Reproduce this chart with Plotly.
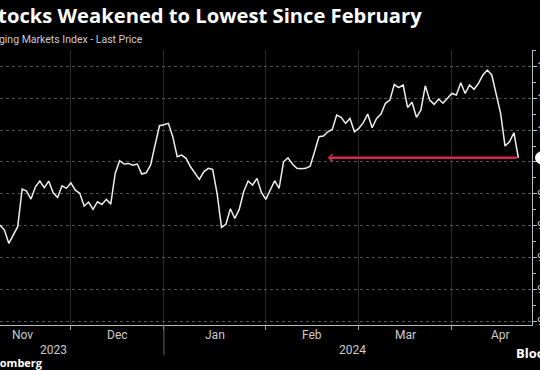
import pandas as pd
import plotly.graph_objects as go

# ---------------- data ----------------
dates = pd.bdate_range("2023-11-08", "2024-04-19")  # trading days (weekdays)
values = [
    960.3, 957.2, 948.8, 954.0, 959.3, 983.0, 981.7, 976.7, 984.4, 988.0,
    983.8, 988.0, 980.6, 977.7, 985.0, 983.4, 986.9, 982.3, 980.3, 972.3,
    974.8, 970.2, 975.0, 973.3, 976.5, 973.5, 992.8, 1000.8, 998.7, 999.1,
    997.9, 998.7, 992.4, 993.2, 998.1, 1010.6, 1022.8, 1023.4, 1024.3, 1015.9,
    1003.3, 1004.3, 1002.3, 997.0, 992.8, 989.1, 993.8, 996.0, 995.3, 980.3,
    958.9, 960.8, 970.6, 964.5, 970.2, 981.3, 988.0, 985.5, 989.7, 980.8,
    976.5, 982.3, 988.2, 983.4, 1000.1, 1002.6, 998.7, 996.0, 995.7, 996.0,
    997.4, 1006.4, 1015.9, 1016.3, 1019.0, 1020.5, 1029.5, 1028.1, 1024.3, 1027.4,
    1019.0, 1021.1, 1024.7, 1030.1, 1021.5, 1027.4, 1030.1, 1036.9, 1038.9, 1048.7,
    1046.8, 1048.4, 1034.3, 1037.5, 1028.1, 1032.6, 1047.9, 1038.9, 1036.2, 1039.6,
    1036.9, 1040.0, 1043.1, 1042.1, 1049.8, 1043.1, 1048.4, 1045.7, 1049.4, 1054.7,
    1057.8, 1054.7, 1043.1, 1030.6, 1010.0, 1012.7, 1018.4, 1002.6,
]
month_labels = ["Nov", "Dec", "Jan", "Feb", "Mar", "Apr"]
month_starts = ["2023-11-01", "2023-12-01", "2024-01-01", "2024-02-01",
                "2024-03-01", "2024-04-01", "2024-05-01"]
year_labels = ["2023", "2024"]
y_ticks = [900, 920, 940, 960, 980, 1000, 1020, 1040, 1060]
arrow_target = "2024-02-20"

title = "Stocks Weakened to Lowest Since February"
subtitle = "MSCI Emerging Markets Index - Last Price"
source = "Source: Bloomberg"

# ---------------- helpers ----------------
cal = pd.bdate_range("2023-09-01", "2024-06-30")
cal_list = list(cal)


def prev_bday(d):
    d = pd.Timestamp(d)
    return max(c for c in cal_list if c < d)


def pos(d):
    return cal_list.index(pd.Timestamp(d))


def at_pos(p):
    i = int(p)
    return cal_list[i] + pd.Timedelta(days=(p - i))


boundaries = [prev_bday(m) for m in month_starts]
grid_vals = boundaries[1:-1]
label_pos = [at_pos((pos(boundaries[k]) + pos(boundaries[k + 1])) / 2)
             for k in range(len(month_labels))]

W, H = 540, 370
ml, mr, mt, mb = 0, 8, 50, 45
pw, ph = W - ml - mr, H - mt - mb


def px(x):
    return (x - ml) / pw


def py(y):
    return (H - mb - y) / ph


last_val = values[-1]
last_date = dates[-1]

fig = go.Figure()
fig.add_trace(go.Scatter(
    x=dates, y=values, mode="lines",
    line=dict(color="#eeeeee", width=1.5),
    hoverinfo="skip", showlegend=False,
))

annotations = []
# title / subtitle (cropped at left like reference)
annotations.append(dict(text=f"<b>{title}</b>", xref="paper", yref="paper",
                        x=px(424), y=py(15), xanchor="right", yanchor="middle",
                        showarrow=False,
                        font=dict(family="Open Sans", size=20.2, color="#ffffff")))
annotations.append(dict(text=subtitle, xref="paper", yref="paper",
                        x=px(145), y=py(39.5), xanchor="right", yanchor="middle",
                        showarrow=False,
                        font=dict(family="Roboto", size=10.5, color="#cccccc")))
# month labels
for lab, lp in zip(month_labels, label_pos):
    annotations.append(dict(text=lab, x=lp, xref="x", yref="paper", y=py(334.5),
                            xanchor="center", yanchor="middle", showarrow=False,
                            font=dict(family="Roboto", size=12, color="#cccccc")))
# year labels
annotations.append(dict(text=year_labels[0], xref="paper", yref="paper", x=px(53.5),
                        y=py(350), xanchor="center", yanchor="middle", showarrow=False,
                        font=dict(family="Roboto", size=12, color="#cccccc")))
annotations.append(dict(text=year_labels[1], xref="paper", yref="paper", x=px(352),
                        y=py(350), xanchor="center", yanchor="middle", showarrow=False,
                        font=dict(family="Roboto", size=12, color="#cccccc")))
# source / logo
annotations.append(dict(text=f"<b>{source}</b>", xref="paper", yref="paper", x=px(45),
                        y=py(362), xanchor="right", yanchor="middle", showarrow=False,
                        font=dict(family="Open Sans", size=11, color="#ffffff")))
annotations.append(dict(text="<b>Bloomberg</b>", xref="paper", yref="paper", x=px(514),
                        y=py(353), xanchor="left", yanchor="middle", showarrow=False,
                        font=dict(family="Open Sans", size=13, color="#ffffff")))
# red arrow
annotations.append(dict(x=arrow_target, y=last_val, ax=last_date, ay=last_val,
                        xref="x", yref="y", axref="x", ayref="y", text="",
                        showarrow=True, arrowhead=4, arrowsize=0.55, arrowwidth=2.5,
                        arrowcolor="#d12a50", standoff=0, startstandoff=0))
# last price label text (mostly off-canvas)
annotations.append(dict(text=f"{last_val:,.2f}", xref="paper", yref="y", x=px(538),
                        y=last_val, xanchor="left", yanchor="middle", showarrow=False,
                        font=dict(family="Roboto", size=11, color="#000000")))

shapes = [
    # year separator below axis
    dict(type="line", xref="x", yref="paper", x0=boundaries[2], x1=boundaries[2],
         y0=0, y1=py(355), line=dict(color="#666666", width=1)),
    # last price bubble
    dict(type="circle", xref="paper", yref="y", xsizemode="pixel", ysizemode="pixel",
         xanchor=1, yanchor=last_val, x0=3, x1=27, y0=-8, y1=8,
         fillcolor="#ffffff", line=dict(width=0), layer="above"),
]

fig.update_layout(
    width=W, height=H,
    margin=dict(l=ml, r=mr, t=mt, b=mb, pad=0, autoexpand=False),
    paper_bgcolor="#000000", plot_bgcolor="#000000",
    showlegend=False,
    annotations=annotations,
    shapes=shapes,
    xaxis=dict(
        type="date",
        rangebreaks=[dict(bounds=["sat", "mon"])],
        range=[dates[0], "2024-04-24 02:00"],
        tickmode="array", tickvals=grid_vals, showticklabels=False,
        ticks="outside", ticklen=4, tickcolor="#999999",
        showgrid=True, gridcolor="#2c2c2c", gridwidth=1,
        showline=True, linecolor="#bbbbbb", linewidth=1,
        zeroline=False, fixedrange=True, automargin=False,
    ),
    yaxis=dict(
        side="right",
        range=[897.5, 1070.4],
        tickmode="array", tickvals=y_ticks, tickformat=",",
        ticks="outside", ticklen=4, tickcolor="#bbbbbb",
        ticklabelstandoff=-2,
        tickfont=dict(family="Roboto", size=11, color="#cccccc"),
        minor=dict(tickmode="array", tickvals=[v + 10 for v in y_ticks[:-1]] + [1070],
                   ticks="outside", ticklen=3, tickcolor="#bbbbbb", showgrid=False),
        showgrid=True, gridcolor="#555555", griddash="dot", gridwidth=1,
        showline=True, linecolor="#bbbbbb", linewidth=1,
        zeroline=False, fixedrange=True, automargin=False,
    ),
)

fig.write_html(
    "out.html",
    config={"displayModeBar": False},
    post_script="document.body.style.margin='0px';document.body.style.background='#000';",
)
